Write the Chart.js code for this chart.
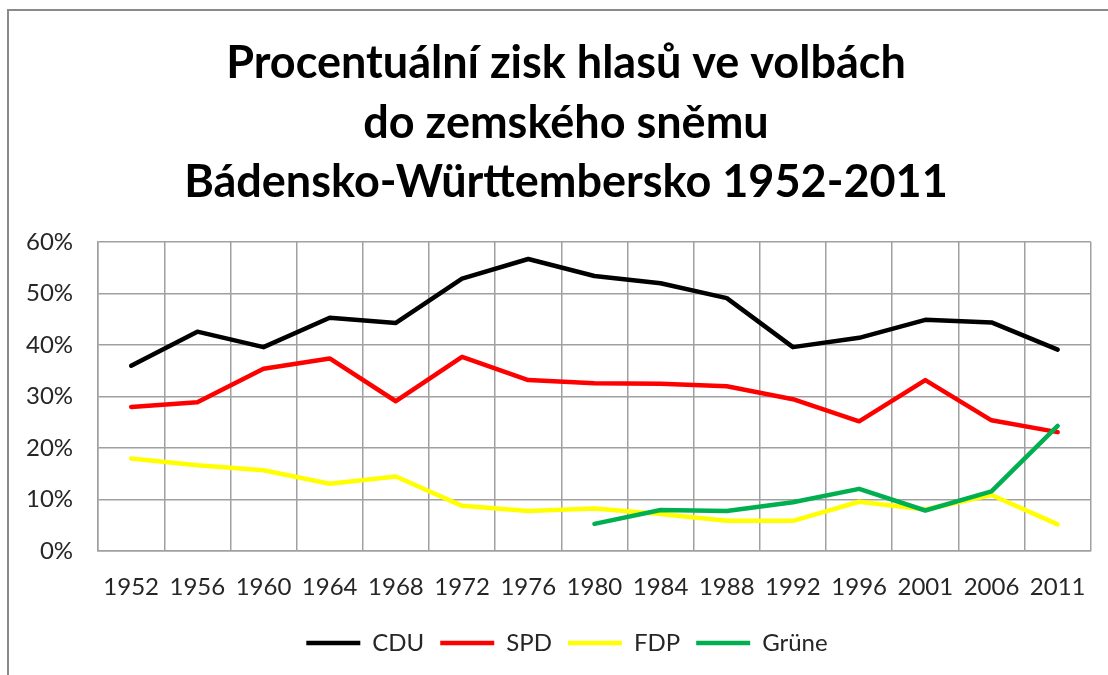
<!DOCTYPE html>
<html>
<head>
<meta charset="utf-8">
<script src="https://cdn.jsdelivr.net/npm/chart.js@4/dist/chart.umd.min.js"></script>
<style>
  html, body { margin: 0; padding: 0; background: #fff; }
  #wrap { width: 1108px; height: 675px; position: relative; }
</style>
</head>
<body>
<div id="wrap"><canvas id="graph_canva"></canvas></div>
<script>
// Election years (X-axis)
var years = ['1952', '1956', '1960', '1964', '1968', '1972', '1976', '1980',
             '1984', '1988', '1992', '1996', '2001', '2006', '2011'];

// Vote share in % (Y-axis)
var cdu   = [36.0, 42.6, 39.6, 45.3, 44.3, 52.9, 56.7, 53.4, 52.0, 49.1, 39.6, 41.4, 44.9, 44.4, 39.1];
var spd   = [28.0, 28.9, 35.4, 37.4, 29.1, 37.7, 33.2, 32.6, 32.5, 32.0, 29.5, 25.2, 33.2, 25.4, 23.1];
var fdp   = [18.0, 16.7, 15.7, 13.1, 14.5, 8.8, 7.8, 8.3, 7.2, 5.9, 5.9, 9.6, 8.1, 10.9, 5.2];
var grune = [null, null, null, null, null, null, null, 5.3, 8.0, 7.8, 9.5, 12.1, 7.9, 11.6, 24.3];

var title_lines = ['Procentuální zisk hlasů ve volbách', 'do zemského sněmu', 'Bádensko-Württembersko 1952-2011'];

var FONT = 'Lato, "Open Sans", sans-serif';

// grey frame of the chart object + the three-line title
// (title and legend are centred on the chart object, not on the canvas)
var frame = {
    id: 'frame',
    afterLayout: function( chart ){
        chart.legend.left += 20;
        chart.legend.right += 20;
    },
    beforeDraw: function( chart ){
        var c = chart.ctx;
        c.save();
        c.strokeStyle = '#8a8a8a';
        c.lineWidth = 2;
        c.beginPath();
        c.moveTo(8, 676);
        c.lineTo(8, 10);
        c.lineTo(1110, 10);
        c.stroke();

        c.fillStyle = '#000';
        c.font = 'bold 45px ' + FONT;
        c.textAlign = 'center';
        c.textBaseline = 'alphabetic';
        for( var i = 0; i < title_lines.length; i++ ){
            c.fillText( title_lines[i], 566, 78 + i * 59.5 );
        }
        c.restore();
    }
};

function line_set( label, data, color, order ){
    return {
        label: label,
        data: data,
        borderColor: color,
        backgroundColor: color,
        borderWidth: 4.5,
        borderCapStyle: 'round',
        borderJoinStyle: 'round',
        pointRadius: 0,
        pointHoverRadius: 0,
        tension: 0,
        fill: false,
        spanGaps: false,
        order: order
    };
}

var ctx = document.getElementById('graph_canva').getContext('2d');

var _GRAPH = new Chart(ctx, {
    type: 'line',
    data: {
        labels: years,
        datasets: [
            line_set('CDU', cdu, '#000000', 1),
            line_set('SPD', spd, '#ff0000', 2),
            line_set('FDP', fdp, '#ffff00', 3),
            line_set('Grüne', grune, '#00b050', 0)
        ]
    },
    options: {
        responsive: true,
        maintainAspectRatio: false,
        animation: false,
        layout: {
            padding: { left: 1, right: 15, top: 242, bottom: 10 }
        },
        plugins: {
            title: { display: false },
            legend: {
                position: 'bottom',
                labels: {
                    usePointStyle: true,
                    pointStyle: 'line',
                    pointStyleWidth: 54,
                    color: '#262626',
                    font: { family: FONT, size: 24 },
                    padding: 16,
                    sort: function( a, b ){ return a.datasetIndex - b.datasetIndex; }
                }
            },
            tooltip: { enabled: false }
        },
        scales: {
            x: {
                offset: true,
                grid: {
                    offset: true,
                    color: '#a0a0a0',
                    lineWidth: 1.5,
                    drawTicks: false
                },
                border: { color: '#a0a0a0', width: 1.5 },
                ticks: {
                    color: '#262626',
                    font: { family: FONT, size: 24 },
                    padding: 22,
                    maxRotation: 0,
                    autoSkip: false
                },
                // legend sits closer to the year labels than the default spacing
                afterFit: function( scale ){ scale.height -= 9; }
            },
            y: {
                min: 0,
                max: 60,
                grid: {
                    color: '#a0a0a0',
                    lineWidth: 1.5,
                    drawTicks: false
                },
                border: { color: '#a0a0a0', width: 1.5 },
                ticks: {
                    stepSize: 10,
                    color: '#262626',
                    font: { family: FONT, size: 24 },
                    padding: 25,
                    callback: function( v ){ return v + '%'; }
                }
            }
        }
    },
    plugins: [frame]
});
</script>
</body>
</html>
